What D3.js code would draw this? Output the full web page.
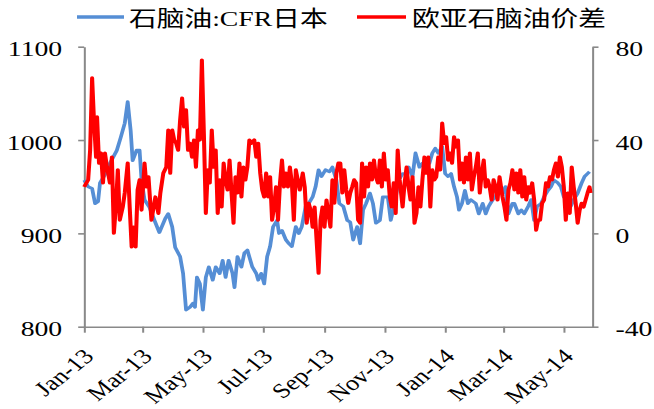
<!DOCTYPE html>
<html><head><meta charset="utf-8">
<script src="https://cdn.jsdelivr.net/npm/d3@7"></script>
<style>html,body{margin:0;padding:0;background:#fff;}svg{display:block;}</style>
</head><body>
<script>
// ---------- DATA ----------
const startDate = "2013-01-01";
const endDate = "2014-05-30";
const seriesNames = ["石脑油:CFR日本", "欧亚石脑油价差"];
const leftTicks = [800, 900, 1000, 1100];
const rightTicks = [-40, 0, 40, 80];
const xTickDates = ["2013-01-01","2013-03-01","2013-05-01","2013-07-01","2013-09-01","2013-11-01","2014-01-01","2014-03-01","2014-05-01"];
// day offsets from startDate, and values
const blueDay = [0,4,8,11,14,16,21,26,33,37,41,44,47,49,53,56,58,61,66,71,76,82,85,89,92,97,100,103,107,110,112,114,117,120,123,126,130,133,137,140,143,146,150,152,155,159,162,165,170,174,176,179,182,185,188,191,195,197,200,204,207,210,214,217,220,224,227,231,234,237,240,244,248,251,255,258,262,266,269,272,276,279,282,285,289,292,295,299,302,307,310,314,318,322,325,328,332,335,339,342,345,349,352,355,358,362,365,368,371,374,377,379,382,385,388,391,396,399,403,406,409,413,416,419,423,426,429,433,435,439,442,445,449,452,455,458,462,465,469,472,475,479,482,485,489,492,495,499,503,506,509,511];
const blueVal = [957,950,948,932,934,954,963,975,989,1003,1018,1041,1010,978,989,989,957,936,928,914,901,916,921,907,885,875,857,818,821,825,821,853,846,818,853,864,850,864,857,871,853,871,857,842,875,864,879,882,864,857,850,857,846,875,886,907,914,900,903,893,889,886,907,900,907,929,932,939,950,968,961,968,966,971,957,932,929,914,912,893,907,889,925,932,943,932,911,914,939,939,914,932,957,964,964,971,961,986,971,975,971,975,986,991,986,993,964,961,964,950,939,925,932,946,932,936,932,921,932,921,929,936,939,950,943,950,921,932,932,921,925,921,929,936,914,929,932,939,946,950,957,954,950,939,943,929,936,943,954,961,964,966];
const redDay = [0,4,6,8,10,12,13,15,17,19,21,23,26,28,30,32,34,36,39,41,44,46,48,50,52,54,56,58,61,63,65,68,72,75,77,80,83,85,87,89,91,93,95,97,99,101,103,105,107,109,111,113,115,117,119,121,123,125,127,129,131,133,135,137,139,141,143,145,147,149,151,153,155,157,159,161,163,165,167,169,172,
174,176,178,180,182,184,186,188,190,192,194,196,198,200,202,204,206,208,210,212,214,216,218,221,223,225,227,229,231,233,235,237,239,241,243,245,247,249,251,253,255,257,259,261,263,265,267,269,271,273,275,277,279,281,283,285,287,289,291,293,295,297,299,301,303,305,307,309,311,313,315,317,319,322,324,326,328,330,332,334,336,338,340,342,344,346,348,350,352,354,356,358,360,362,364,366,368,370,372,374,376,378,380,382,384,386,388,390,392,394,396,398,400,402,404,406,408,410,412,414,416,418,420,423,425,427,429,431,433,435,437,439,441,443,445,447,449,451,453,455,457,459,461,463,465,467,469,471,473,475,477,479,481,483,485,487,489,491,493,495,497,499,501,503,505,507,509,511,512];
const redVal = [19.9,22.9,35.7,66.6,47.3,32.7,49.9,30.1,34.4,21.6,34.4,28.4,21.6,32.7,0.1,11.3,27.2,5.7,11.3,17.3,30.1,11.3,-5.8,2.7,-5.8,18.6,22.9,10,30.1,19.9,24.2,5.7,15.6,8.6,17.3,25.8,28.4,44.3,25.8,44.3,40,38.6,35.7,48.6,58,45.6,52.9,35.7,38.6,32.7,40,28.4,44.3,40,74.3,42.9,8.6,27.2,21.6,44.3,28.4,35.7,8.6,22.9,11.3,30.1,22.9,18.6,31.4,17.3,4.4,24.2,17.3,30.1,15.6,28.4,22.9,28.4,40,38.6,40,
32.7,38.6,25.8,18.6,15.6,25.8,15.6,24.2,5.7,11.3,19.9,5.7,21.6,31.4,19.9,25.8,19.9,28.4,21.6,5.7,27.2,22.9,18.6,
25.8,19.9,4.4,12.9,10,2.7,11.3,-2.9,-17.1,5.7,11.3,2.7,14.3,8.6,2.7,22.9,12.9,25.8,30.1,30.1,17.3,27.2,18.6,12.9,17.3,19.9,22.9,21.6,5.7,4.4,30.1,15.6,28.4,19.9,30.1,22.9,31.4,24.2,21.6,31.4,19.9,34.4,22.9,27.2,15.6,11.3,21.6,8.6,35.7,22.9,
11.3,21.6,28.4,19.9,14.3,24.2,4.4,8.6,19.9,11.3,22.9,32.7,25.8,32.7,11.3,27.2,22.9,24.2,32.7,27.2,47.3,38.6,41.4,31.4,34.4,30.1,41.4,37,40,22.9,30.1,21.6,32.7,22.9,34.4,18.6,24.2,28.4,34.4,17.3,25.8,31.4,19.9,22.9,19.9,14.3,22.9,19.9,14.3,24.2,
15.6,11.3,5.7,18.6,21.6,27.2,18.6,25.8,17.3,27.2,15.6,24.2,14.3,19.9,17.3,21.6,14.3,1.4,5.7,5.7,12.9,14.3,21.6,19.9,24.2,22.9,27.2,30.1,24.2,32.7,28.4,19.9,5.7,17.3,8.6,28.4,19.9,12.9,4.4,10,12.9,11.3,14.3,17.3,19.9,17.3];

// ---------- LAYOUT ----------
const W = 654, H = 409;
const SX = 1.26;               // horizontal stretch of the original picture
const VW = W / SX;
const px = v => v / SX;        // display px -> viewBox units
const plot = {left: 84.2, right: 592.5, top: 46.7, bottom: 326.7};
const FONT = "'Liberation Serif','Times New Roman',serif";
const CJK = "'Liberation Serif','Noto Sans CJK SC',serif";
const AXIS = "#898989";
const BLUE = "#558ED5", RED = "#FF0000";

const parse = d3.timeParse("%Y-%m-%d");
const t0 = parse(startDate);
const toDate = d => d3.timeDay.offset(t0, d);
const numFmt = d => String(d);

const svg = d3.select("body").append("svg")
  .attr("width", W).attr("height", H)
  .attr("viewBox", `0 0 ${VW} ${H}`)
  .attr("preserveAspectRatio", "none");

const x = d3.scaleTime().domain([t0, parse(endDate)]).range([px(plot.left), px(plot.right)]);
const yL = d3.scaleLinear().domain([800, 1100]).range([plot.bottom, plot.top]);
const yR = d3.scaleLinear().domain([-40, 80]).range([plot.bottom, plot.top]);

// axes
function styleAxis(g) {
  g.attr("font-family", null).attr("font-size", null);
  g.selectAll("path.domain").attr("stroke", AXIS).attr("stroke-width", 1.6);
  g.selectAll(".tick line").attr("stroke", AXIS).attr("stroke-width", 1.6);
  g.selectAll(".tick text").attr("fill", "#000").style("font-family", FONT).style("font-size", "22px");
}
svg.append("g").attr("transform", `translate(${px(plot.left)},0)`)
  .call(d3.axisLeft(yL).tickValues(leftTicks).tickFormat(numFmt).tickSize(px(6)).tickSizeOuter(0).tickPadding(px(16)))
  .call(styleAxis)
  .selectAll(".tick text").attr("dy", "0.42em");
svg.append("g").attr("transform", `translate(${px(plot.right)},0)`)
  .call(d3.axisRight(yR).tickValues(rightTicks).tickFormat(numFmt).tickSize(px(6)).tickSizeOuter(0).tickPadding(px(17)))
  .call(styleAxis)
  .selectAll(".tick text").attr("dy", "0.42em");
svg.append("g").attr("transform", `translate(0,${plot.bottom})`)
  .call(d3.axisBottom(x).tickValues(xTickDates.map(parse)).tickSize(6).tickSizeOuter(0).tickFormat(""))
  .call(styleAxis);

const fmt = d3.timeFormat("%b-%y");
svg.append("g").selectAll("text").data(xTickDates.map(parse)).join("text")
  .attr("transform", d => `translate(${x(d) + px(11)},${plot.bottom + 31}) rotate(-45)`)
  .attr("text-anchor", "end")
  .style("font-family", FONT).style("font-size", "21px").attr("fill", "#000")
  .text(d => fmt(d));

// lines
const blueData = blueDay.map((d, i) => ({date: toDate(d), v: blueVal[i]}));
const redData = redDay.map((d, i) => ({date: toDate(d), v: redVal[i]}));
svg.append("path").datum(blueData)
  .attr("fill", "none").attr("stroke", BLUE).attr("stroke-width", 3).attr("stroke-linejoin", "round")
  .attr("d", d3.line().x(d => x(d.date)).y(d => yL(d.v)));
svg.append("path").datum(redData)
  .attr("fill", "none").attr("stroke", RED).attr("stroke-width", 3.2).attr("stroke-linejoin", "round")
  .attr("d", d3.line().x(d => x(d.date)).y(d => yR(d.v)));

// legend
const legend = [
  {name: seriesNames[0], color: BLUE, x0: 77, x1: 124, tx: 129},
  {name: seriesNames[1], color: RED, x0: 357, x1: 406, tx: 412}
];
const lg = svg.append("g");
legend.forEach(l => {
  lg.append("line").attr("x1", px(l.x0)).attr("x2", px(l.x1)).attr("y1", 17).attr("y2", 17)
    .attr("stroke", l.color).attr("stroke-width", 3.5);
  lg.append("text").attr("x", px(l.tx)).attr("y", 26)
    .style("font-family", CJK).style("font-size", "22px").attr("fill", "#000").text(l.name);
});
</script>
</body></html>
